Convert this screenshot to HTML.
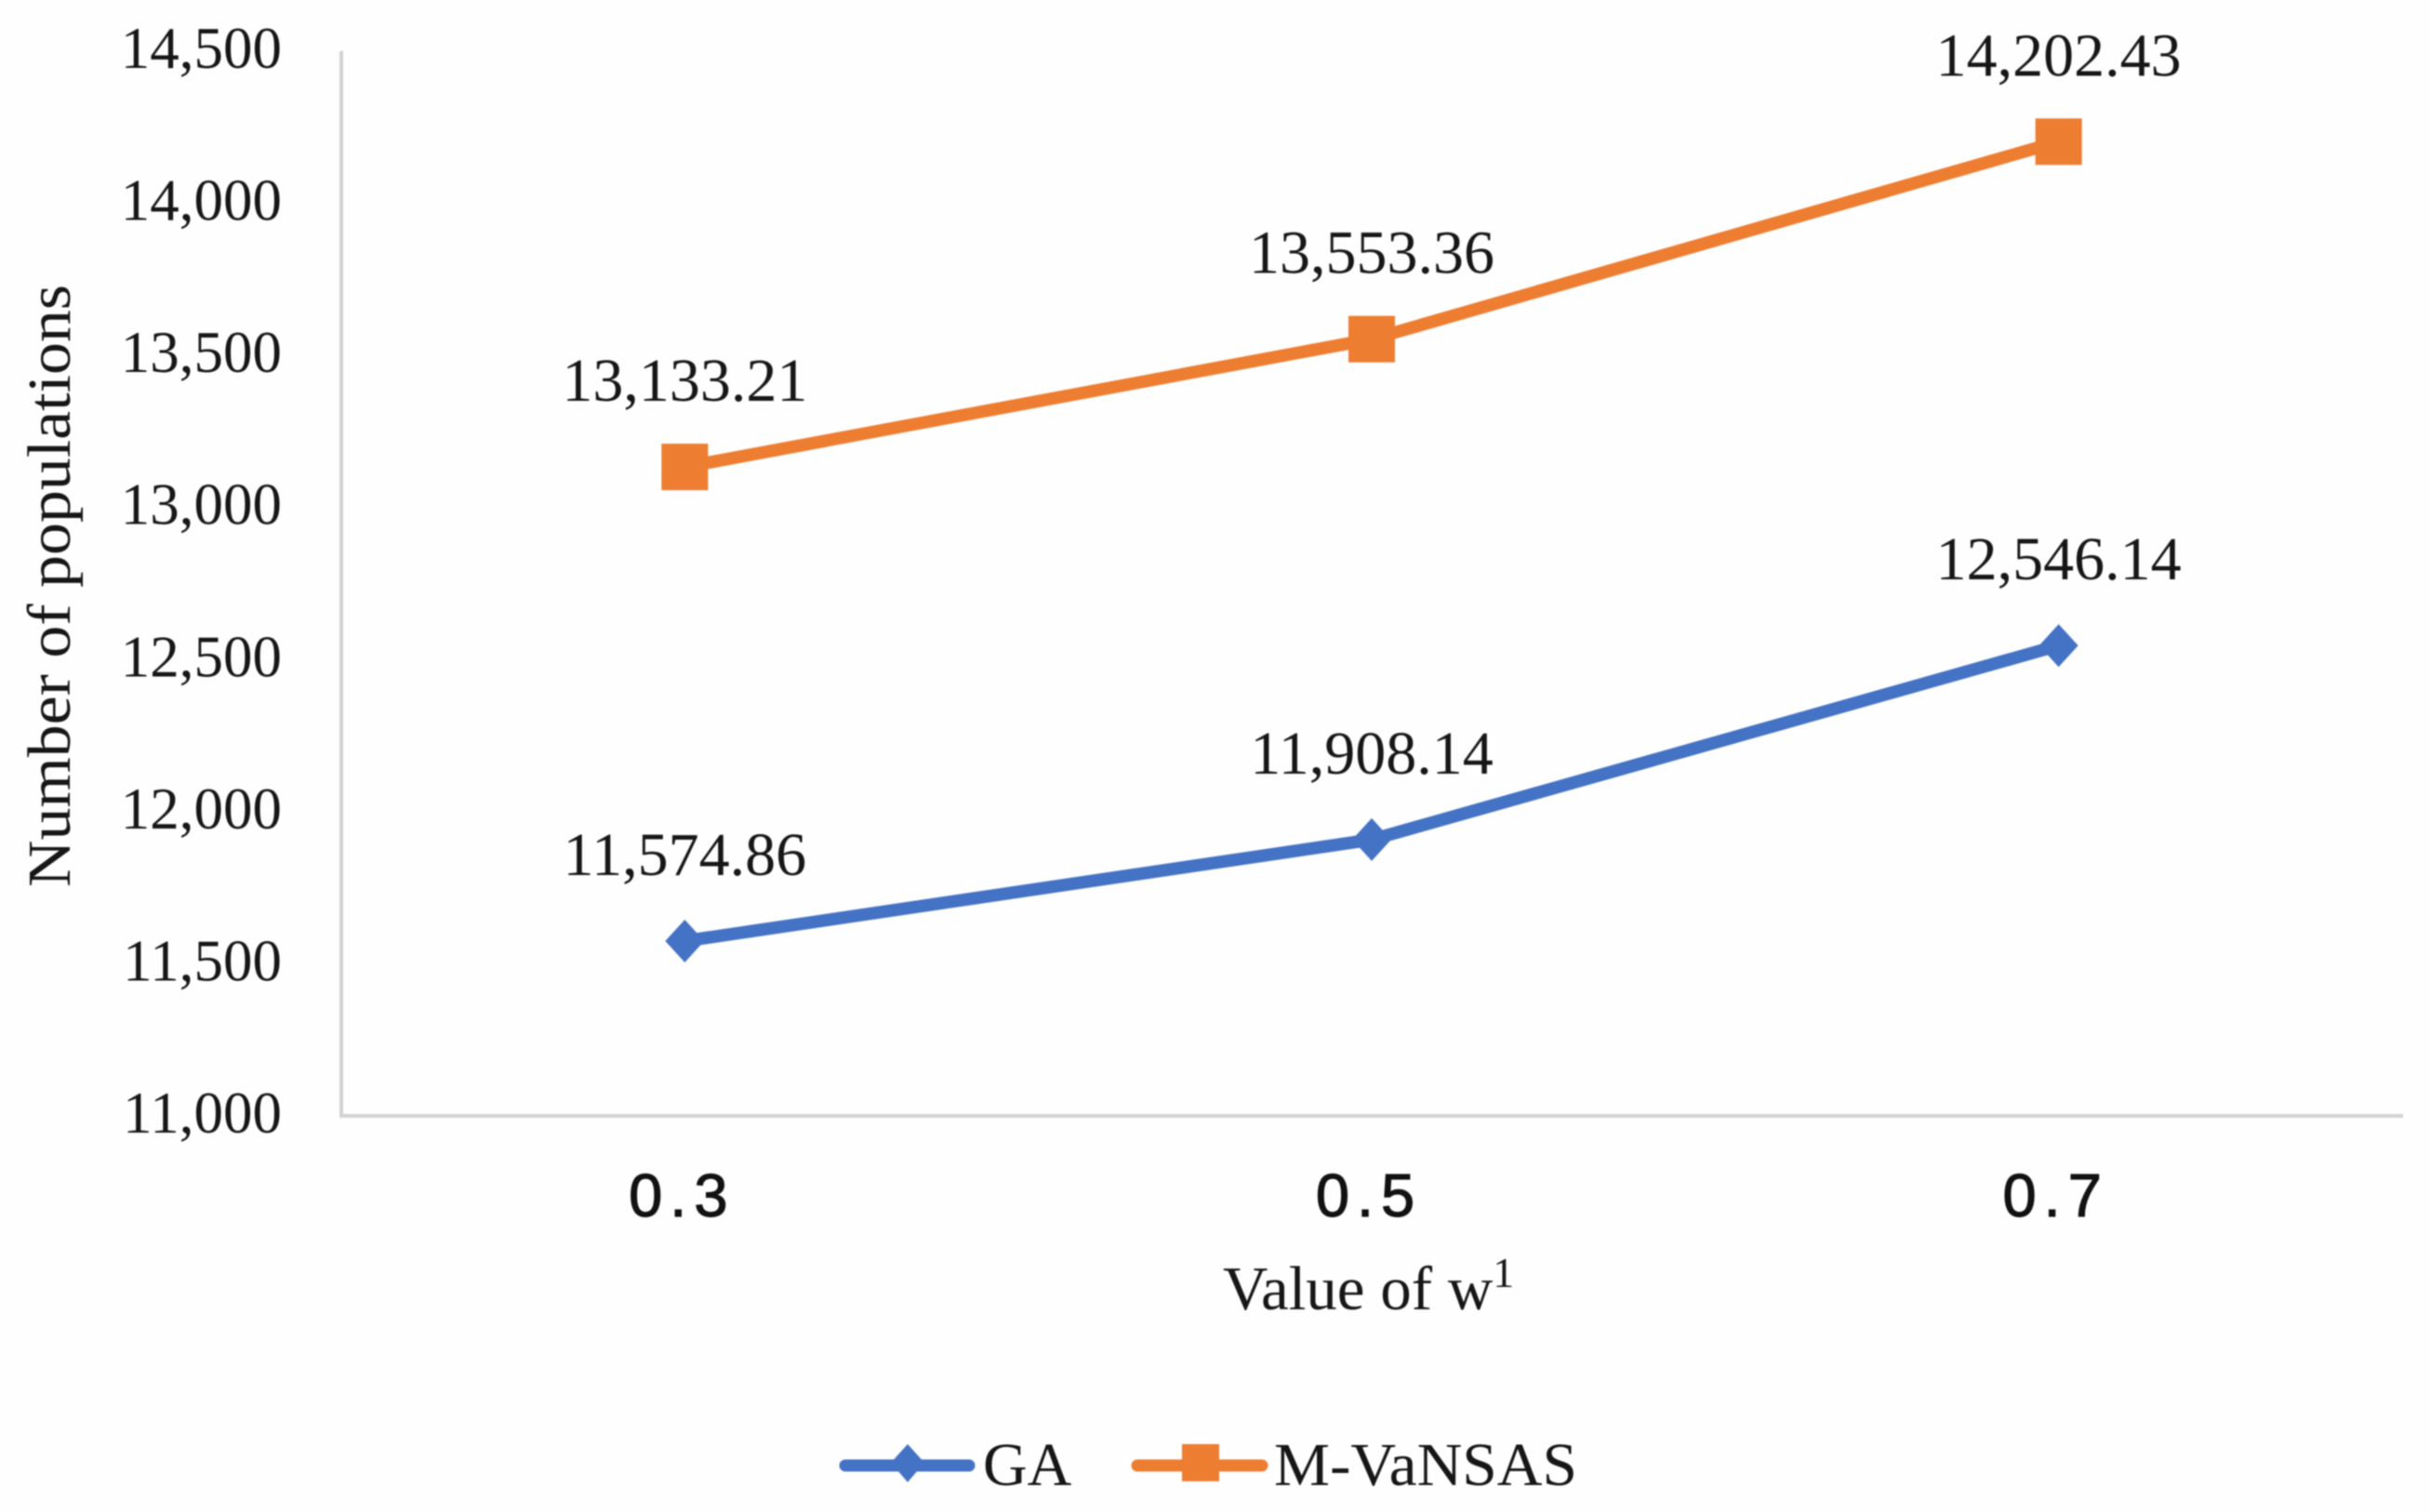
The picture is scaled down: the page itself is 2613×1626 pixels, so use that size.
<!DOCTYPE html>
<html lang="en">
<head>
<meta charset="utf-8">
<title>Number of populations by value of w1</title>
<style>
  html, body { margin: 0; padding: 0; background: #fefefe; }
  body { width: 2613px; height: 1626px; overflow: hidden; }
  svg { display: block; filter: blur(0.7px); }
  text { font-family: "Liberation Serif", serif; fill: #161616; }
  .x-tick { font-family: "Liberation Sans", sans-serif; font-size: 65px; letter-spacing: 8px; fill: #111; stroke: #111; stroke-width: 1.2px; }
</style>
</head>
<body>
<svg id="chart" xmlns="http://www.w3.org/2000/svg" width="2613" height="1626" viewBox="0 0 2613 1626">
  <rect x="0" y="0" width="2613" height="1626" fill="#fefefe"/>
  <line x1="367" y1="55" x2="367" y2="1200" stroke="#d2d2d2" stroke-width="4"/>
  <line x1="365" y1="1200" x2="2584" y2="1200" stroke="#d2d2d2" stroke-width="4"/>
  <text transform="translate(75,630) rotate(-90)" text-anchor="middle" font-size="66" textLength="648" lengthAdjust="spacingAndGlyphs">Number of populations</text>
  <text x="1315" y="1408" font-size="67">Value of w<tspan dy="-24" font-size="46">1</tspan></text>
  <g>
    <g>
      <line x1="909" y1="1576" x2="1042" y2="1576" stroke="#4472C4" stroke-width="13" stroke-linecap="round"/>
      <polygon points="976,1553 994,1573 976,1594 958,1573" fill="#4472C4"/>
      <text x="1057" y="1597" font-size="66">GA</text>
    </g>
    <g>
      <line x1="1223" y1="1576" x2="1357" y2="1576" stroke="#ED7D31" stroke-width="13" stroke-linecap="round"/>
      <rect x="1271" y="1553" width="40" height="40" fill="#ED7D31"/>
      <text x="1370" y="1597" font-size="66" textLength="326" lengthAdjust="spacingAndGlyphs">M-VaNSAS</text>
    </g>
  </g>
</svg>
<script>
var categories = ["0.3", "0.5", "0.7"];
var gaValues = [11574.86, 11908.14, 12546.14];
var mvansasValues = [13133.21, 13553.36, 14202.43];
var yTicks = [11000, 11500, 12000, 12500, 13000, 13500, 14000, 14500];

var svg = document.getElementById('chart');
var NS = 'http://www.w3.org/2000/svg';
var plotLeft = 367, plotRight = 2583, plotTop = 55, plotBottom = 1200;

function xScale(i) {
  return plotLeft + (plotRight - plotLeft) * (i + 0.5) / categories.length;
}
function yScale(v) {
  var lo = yTicks[0], hi = yTicks[yTicks.length - 1];
  return plotBottom - (v - lo) / (hi - lo) * (plotBottom - plotTop);
}
function make(tag, attrs, text) {
  var el = document.createElementNS(NS, tag);
  for (var k in attrs) { el.setAttribute(k, attrs[k]); }
  if (text !== undefined) { el.textContent = text; }
  return el;
}
function fmt(v, digits) {
  return v.toLocaleString('en-US', { minimumFractionDigits: digits, maximumFractionDigits: digits });
}

yTicks.forEach(function (t) {
  var el = make('text', { x: 303, y: yScale(t) + 18, 'text-anchor': 'end', 'font-size': 63 }, fmt(t, 0));
  
  
  svg.appendChild(el);
});

categories.forEach(function (c, i) {
  var el = make('text', { x: xScale(i) - 3, y: 1308, 'text-anchor': 'middle', 'class': 'x-tick' }, c);
  
  
  svg.appendChild(el);
});

function drawSeries(name, values, color, markerType) {
  var group = make('g', {});
  
  
  svg.appendChild(group);

  var pts = values.map(function (v, i) { return xScale(i) + ',' + yScale(v); }).join(' ');
  var line = make('polyline', { points: pts, fill: 'none', stroke: color, 'stroke-width': 13.5, 'stroke-linejoin': 'round', 'stroke-linecap': 'round' });
  
  
  group.appendChild(line);

  values.forEach(function (v, i) {
    var cx = xScale(i), cy = yScale(v), marker;
    if (markerType === 'square') {
      marker = make('rect', { x: cx - 25, y: cy - 25, width: 50, height: 50, fill: color });
    } else {
      marker = make('polygon', {
        points: cx + ',' + (cy - 23) + ' ' + (cx + 21) + ',' + cy + ' ' + cx + ',' + (cy + 23) + ' ' + (cx - 21) + ',' + cy,
        fill: color
      });
    }
    
    
    group.appendChild(marker);

    var label = make('text', { x: cx, y: cy - 71, 'text-anchor': 'middle', 'font-size': 66 }, fmt(v, 2));
    
    
    group.appendChild(label);
  });
}

drawSeries('ga', gaValues, '#4472C4', 'diamond');
drawSeries('m-vansas', mvansasValues, '#ED7D31', 'square');
</script>
</body>
</html>
